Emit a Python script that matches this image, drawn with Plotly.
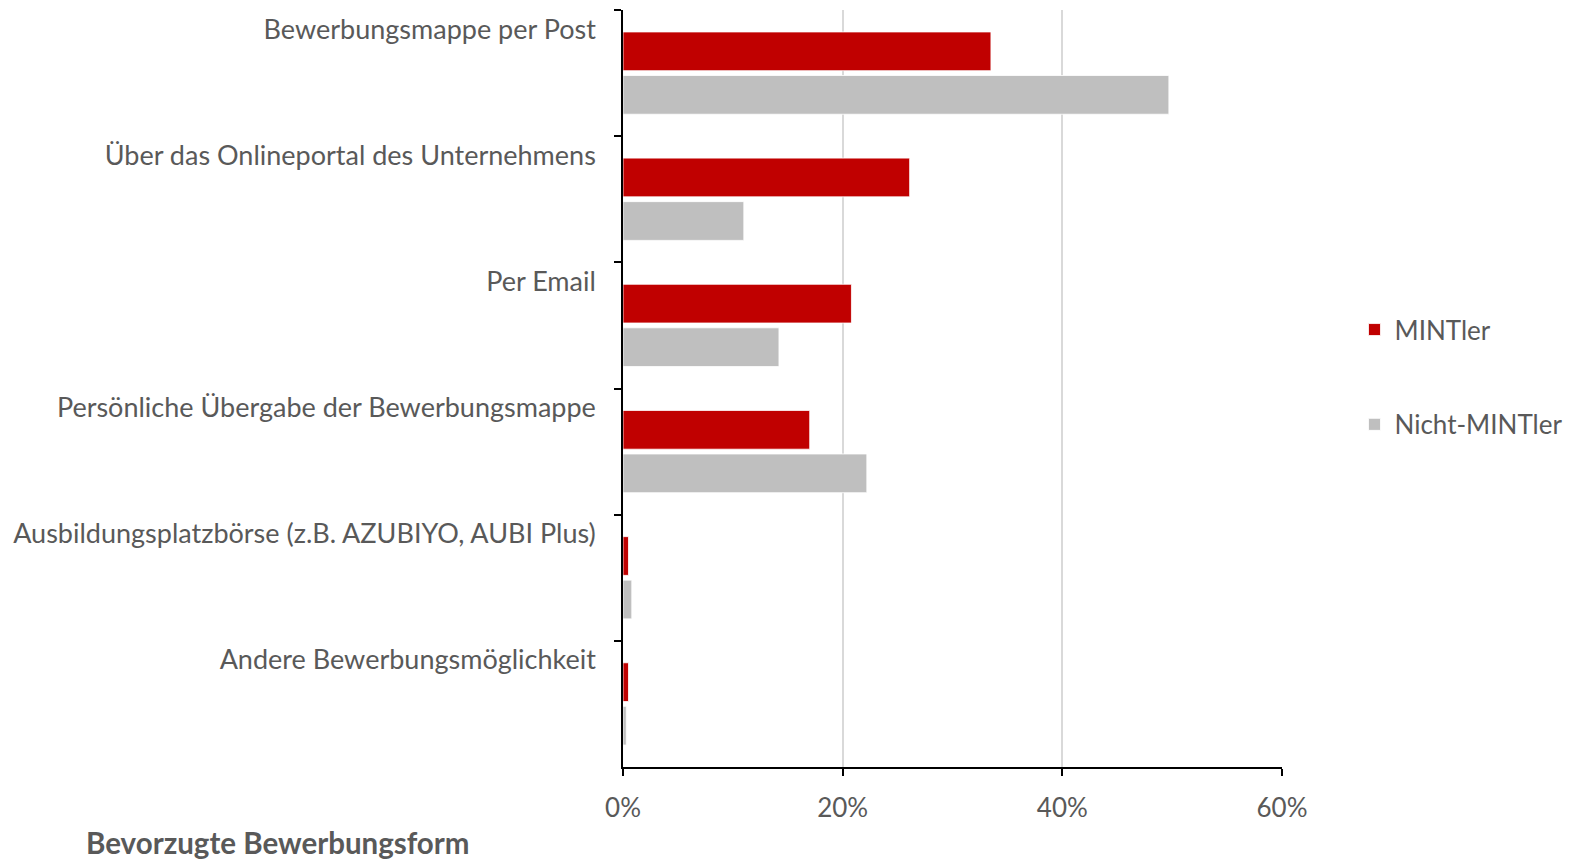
"""Bevorzugte Bewerbungsform: MINTler vs. Nicht-MINTler."""

import plotly.graph_objects as go

categories = [
    "Bewerbungsmappe per Post",
    "Über das Onlineportal des Unternehmens",
    "Per Email",
    "Persönliche Übergabe der Bewerbungsmappe",
    "Ausbildungsplatzbörse (z.B. AZUBIYO, AUBI Plus)",
    "Andere Bewerbungsmöglichkeit",
]
mintler = [0.335, 0.261, 0.208, 0.170, 0.005, 0.005]
nicht_mintler = [0.497, 0.110, 0.142, 0.222, 0.008, 0.003]
x_ticks = [0, 0.2, 0.4, 0.6]

FONT = "Lato"
TEXT_COLOR = "#595959"

fig = go.Figure()
for name, values, color, group in [
    ("MINTler", mintler, "#C00000", "a"),
    ("Nicht-MINTler", nicht_mintler, "#BFBFBF", "b"),
]:
    fig.add_trace(
        go.Bar(
            y=categories,
            x=values,
            name=name,
            orientation="h",
            legendgroup=group,
            marker={"color": color, "line": {"color": "white", "width": 0.8}},
        )
    )

# the page body adds a small offset, so margins are shifted to compensate
fig.update_layout(
    width=1576,
    height=861,
    paper_bgcolor="white",
    plot_bgcolor="white",
    barmode="group",
    bargap=0.31,
    bargroupgap=0.11,
    margin={"l": 615, "r": 302, "t": 2, "b": 102},
    font={"family": FONT, "size": 27, "color": TEXT_COLOR},
    legend={
        "x": 1.11,
        "xanchor": "left",
        "y": 0.515,
        "yanchor": "middle",
        "tracegroupgap": 58,
        "font": {"size": 26, "color": TEXT_COLOR},
        "itemwidth": 30,
    },
    annotations=[
        {
            "text": "<b>Bevorzugte Bewerbungsform</b>",
            "xref": "paper",
            "yref": "paper",
            "x": -0.818,
            "y": -0.1,
            "xanchor": "left",
            "yanchor": "middle",
            "showarrow": False,
            "font": {"size": 29.5, "color": TEXT_COLOR},
        }
    ],
)

fig.update_xaxes(
    range=[0, 0.6],
    tickvals=x_ticks,
    tickformat=".0%",
    showgrid=True,
    gridcolor="#D9D9D9",
    gridwidth=1.5,
    zeroline=False,
    showline=True,
    linecolor="black",
    linewidth=1.5,
    ticks="outside",
    ticklen=7,
    tickcolor="black",
    tickwidth=1.5,
    ticklabelstandoff=10,
    tickfont={"size": 26, "color": TEXT_COLOR},
)
fig.update_yaxes(
    autorange="reversed",
    showline=True,
    linecolor="black",
    linewidth=1.5,
    ticks="outside",
    tickson="boundaries",
    ticklen=7,
    tickcolor="black",
    tickwidth=1.5,
    ticklabelshift=44,
    ticklabelstandoff=20,
    tickfont={"size": 27, "color": TEXT_COLOR},
)

fig.write_html("out.html")
